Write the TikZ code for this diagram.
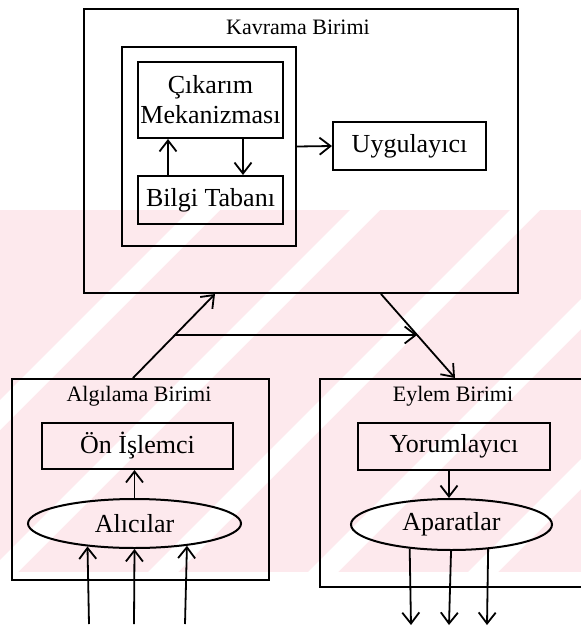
\documentclass[tikz,border=0pt]{standalone}
\usepackage{fontspec}
\setmainfont{Liberation Serif}
\usetikzlibrary{shapes, arrows.meta, calc, positioning}
\definecolor{wm-pink}{RGB}{253,233,237}

\begin{document}
\begin{tikzpicture}[x=1pt, y=-1pt]
      \tikzset{ unit/.style ={draw=black, rectangle, line width=2pt, inner sep=0pt                                              } }
      \tikzset{ blk/.style  ={draw=black, rectangle, line width=2pt, inner sep=0pt, align=center, font=\fontsize{26}{30}\selectfont} }
      \tikzset{ elp/.style  ={draw=black, ellipse,   line width=2pt, inner sep=0pt, font=\fontsize{26}{30}\selectfont              } }
      \tikzset{ ttl/.style  ={inner sep=0pt, font=\fontsize{22}{25}\selectfont                                                    } }
      \tikzset{ flow/.style ={line width=1.8pt, -{Straight Barb[length=11pt, width=17pt]}                                         } }

      \clip (0,0) rectangle (581,627);

      % watermark of the scan
      \begin{scope}
        \clip (0,210) rectangle (581,572);
        \fill[wm-pink] (0,210) rectangle (581,572);
        \foreach \c in {400,560,720,880,1040}
          \fill[white] (\c,0) -- (\c+30,0) -- (\c+30-627,627) -- (\c-627,627) -- cycle;
      \end{scope}

      % Kavrama Birimi
      \node[unit, minimum width=434pt, minimum height=284pt] (kav)   at (301.0, 151.0) {};
      \node[ttl                                           ] (kavt)  at (298.0,  27.0) {Kavrama Birimi};
      \node[unit, minimum width=174pt, minimum height=199pt] (inner) at (209.0, 146.5) {};
      \node[blk,  minimum width=145pt, minimum height=76pt ] (cik)   at (210.5, 100.0) {Çıkarım\\Mekanizması};
      \node[blk,  minimum width=145pt, minimum height=48pt ] (bilgi) at (210.5, 200.0) {Bilgi Tabanı};
      \node[blk,  minimum width=153pt, minimum height=48pt ] (uyg)   at (409.5, 146.0) {Uygulayıcı};

      % Algılama Birimi
      \node[unit, minimum width=257pt, minimum height=201pt] (alg)   at (140.5, 479.5) {};
      \node[ttl                                           ] (algt)  at (139.0, 396.0) {Algılama Birimi};
      \node[blk,  minimum width=191pt, minimum height=46pt ] (on)    at (137.5, 446.0) {Ön İşlemci};
      \node[elp,  minimum width=213pt, minimum height=49pt ] (alici) at (134.5, 523.5) {Alıcılar};

      % Eylem Birimi
      \node[unit, minimum width=266pt, minimum height=208pt] (eyl)   at (453.0, 483.0) {};
      \node[ttl                                           ] (eylt)  at (453.0, 396.0) {Eylem Birimi};
      \node[blk,  minimum width=192pt, minimum height=47pt ] (yor)   at (454.0, 446.5) {Yorumlayıcı};
      \node[elp,  minimum width=201pt, minimum height=51pt ] (apar)  at (451.5, 524.5) {Aparatlar};

      % inside Kavrama
      \draw[flow] ([xshift=-42.5pt]bilgi.north) -- ([xshift=-42.5pt]cik.south);
      \draw[flow] ([xshift= 32.5pt]cik.south)   -- ([xshift= 32.5pt]bilgi.north);
      \draw[flow] (inner.east) -- (uyg.west);

      % between the units
      \coordinate (a1) at ([xshift=-7.5pt]alg.north);
      \coordinate (a2) at ([xshift=-86pt]kav.south);
      \coordinate (b1) at ([xshift= 80pt]kav.south);
      \coordinate (b2) at ([xshift=  2pt]eyl.north);
      \draw[flow] (a1) -- (a2);
      \draw[flow] (b1) -- (b2);
      \draw[flow] ($(a1)!0.512!(a2)$) -- ($(b1)!0.488!(b2)$);

      % sensors and outputs
      \draw[flow] (alici.north) -- (alici.north |- on.south);
      \draw[flow] ([xshift=-5pt]yor.south) -- ([xshift=-5pt]yor.south |- apar.north);
      \foreach \x/\a in {89/-154, 134/-90, 185/-23}
        \draw[flow] (\x, 624) -- (alici.\a);
      \foreach \x/\a in {411/-150, 449/-91, 487/-34}
        \draw[flow] (apar.\a) -- (\x, 625);
\end{tikzpicture}
\end{document}
